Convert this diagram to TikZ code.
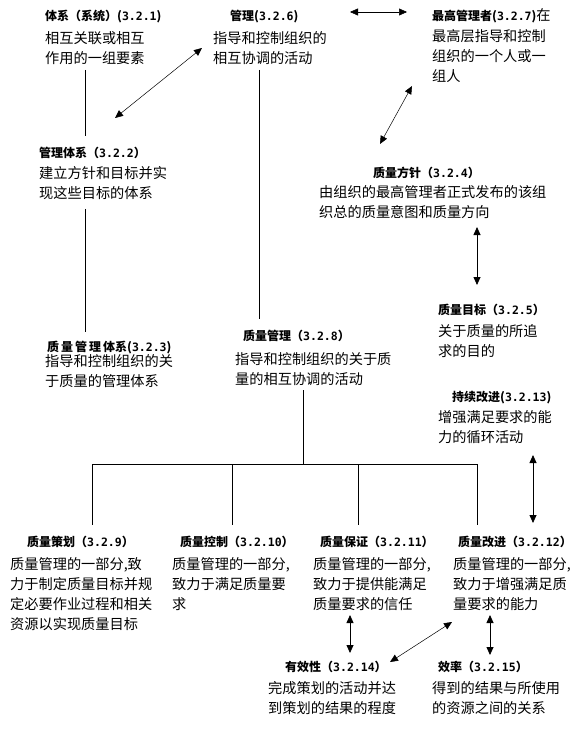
\documentclass[tikz,border=0pt]{standalone}
\usepackage{fontspec}
\setmainfont{Noto Sans CJK SC}
\newfontfamily\numf{DejaVu Sans Mono}
\usetikzlibrary{arrows.meta}
\newcommand{\nm}[1]{{\numf\fontsize{11.5}{14}\selectfont #1}}
\tikzset{
  ttl/.style={font=\fontsize{12}{14}\selectfont\bfseries, inner sep=0pt, anchor=base west},
  body/.style={font=\fontsize{14.2}{20}\selectfont, align=left, inner sep=0pt, anchor=north west,
    execute at begin node={\rule{0pt}{13pt}}},
  conn/.style={line width=0.8pt},
  dbl/.style={line width=0.5pt, {Triangle[length=8pt,width=7pt]}-{Triangle[length=8pt,width=7pt]}}
}
\begin{document}
\begin{tikzpicture}[x=1pt,y=-1pt]
\useasboundingbox (0,0) rectangle (587,735);
\fill[white] (0,0) rectangle (587,735);

% titles
\node[ttl] (t1) at (45,20.6) {体系（系统）(\nm{3.2.1})};
\node[ttl] (t2) at (230,20.6) {管理(\nm{3.2.6})};
\node[ttl] (t3) at (432,20.6) {最高管理者(\nm{3.2.7}){\mdseries\fontsize{14.2}{20}\selectfont 在}};
\node[ttl] (t4) at (39,157.6) {管理体系（\nm{3.2.2}）};
\node[ttl] (t5) at (373,178) {质量方针（\nm{3.2.4}）};
\node[ttl] (t6) at (47,351.6) {质\,量\,管\,理\,体系(\nm{3.2.3})};
\node[ttl] (t7) at (243,340.6) {质量管理（\nm{3.2.8}）};
\node[ttl] (t8) at (438,314.6) {质量目标（\nm{3.2.5}）};
\node[ttl] (t9) at (452,401.6) {持续改进(\nm{3.2.13})};
\node[ttl] (t10) at (27,546.6) {质量策划（\nm{3.2.9}）};
\node[ttl] (t11) at (180,546.6) {质量控制（\nm{3.2.10}）};
\node[ttl] (t12) at (320,546.6) {质量保证（\nm{3.2.11}）};
\node[ttl] (t13) at (458,546.6) {质量改进（\nm{3.2.12}）};
\node[ttl] (t14) at (285,671.6) {有效性（\nm{3.2.14}）};
\node[ttl] (t15) at (438,671.6) {效率（\nm{3.2.15}）};

% bodies
\node[body] (b1) at (45,31.4) {相互关联或相互\\作用的一组要素};
\node[body] (b2) at (213,31.4) {指导和控制组织的\\相互协调的活动};
\node[body] (b3) at (432,29.4) {最高层指导和控制\\组织的一个人或一\\组人};
\node[body] (b4) at (39,166.4) {建立方针和目标并实\\现这些目标的体系};
\node[body] (b5) at (319,185.4) {由组织的最高管理者正式发布的该组\\织总的质量意图和质量方向};
\node[body] (b6) at (45,354.4) {指导和控制组织的关\\于质量的管理体系};
\node[body] (b7) at (235,352.4) {指导和控制组织的关于质\\量的相互协调的活动};
\node[body] (b8) at (438,324.4) {关于质量的所追\\求的目的};
\node[body] (b9) at (438,410.4) {增强满足要求的能\\力的循环活动};
\node[body] (b10) at (10,557.4) {质量管理的一部分,致\\力于制定质量目标并规\\定必要作业过程和相关\\资源以实现质量目标};
\node[body] (b11) at (172,557.4) {质量管理的一部分,\\致力于满足质量要\\求};
\node[body] (b12) at (313,557.4) {质量管理的一部分,\\致力于提供能满足\\质量要求的信任};
\node[body] (b13) at (453,557.4) {质量管理的一部分,\\致力于增强满足质\\量要求的能力};
\node[body] (b14) at (268,681.4) {完成策划的活动并达\\到策划的结果的程度};
\node[body] (b15) at (432,681.4) {得到的结果与所使用\\的资源之间的关系};

% connector end points
\coordinate (c1a) at (85,70);   \coordinate (c1b) at (85,136);
\coordinate (c2a) at (115,118); \coordinate (c2b) at (202,48);
\coordinate (c3a) at (259,70);  \coordinate (c3b) at (259,319);
\coordinate (c4a) at (350,12);  \coordinate (c4b) at (407,12);
\coordinate (c5a) at (412,86);  \coordinate (c5b) at (380,144);
\coordinate (c6a) at (477,227); \coordinate (c6b) at (477,285);
\coordinate (c7a) at (85,209);  \coordinate (c7b) at (85,332);
\coordinate (c8a) at (303,390); \coordinate (hub) at (303,464);
\coordinate (h1) at (92,464);   \coordinate (h2) at (232,464);
\coordinate (h3) at (358,464);  \coordinate (h4) at (477,464);
\coordinate (d1) at (92,525);   \coordinate (d2) at (232,525);
\coordinate (d3) at (358,525);  \coordinate (d4) at (477,525);
\coordinate (c10a) at (533,455); \coordinate (c10b) at (533,523);
\coordinate (c11a) at (350,615); \coordinate (c11b) at (350,653);
\coordinate (c12a) at (452,622); \coordinate (c12b) at (390,662);
\coordinate (c13a) at (490,615); \coordinate (c13b) at (490,655);

% connectors
\draw[conn] (c1a) -- (c1b);
\draw[dbl] (c2a) -- (c2b);
\draw[conn] (c3a) -- (c3b);
\draw[dbl] (c4a) -- (c4b);
\draw[dbl] (c5a) -- (c5b);
\draw[dbl, line width=0.8pt] (c6a) -- (c6b);
\draw[conn] (c7a) -- (c7b);
\draw[conn] (c8a) -- (hub);
\draw[conn] (h1) -- (h4);
\draw[conn] (h1) -- (d1);
\draw[conn] (h2) -- (d2);
\draw[conn] (h3) -- (d3);
\draw[conn] (h4) -- (d4);
\draw[dbl, line width=0.8pt] (c10a) -- (c10b);
\draw[dbl, line width=0.8pt] (c11a) -- (c11b);
\draw[dbl] (c12a) -- (c12b);
\draw[dbl, line width=0.8pt] (c13a) -- (c13b);
\end{tikzpicture}
\end{document}
